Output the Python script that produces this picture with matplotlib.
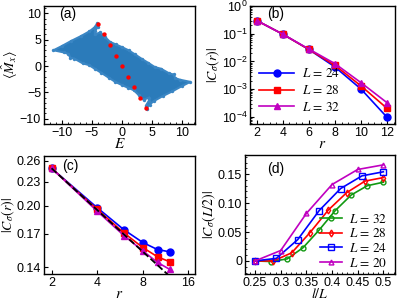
import matplotlib
matplotlib.use("Agg")
import matplotlib.pyplot as plt
from matplotlib.ticker import AutoMinorLocator, NullLocator, FixedLocator, FixedFormatter, LogLocator

plt.rcParams['font.family'] = ['Liberation Sans', 'DejaVu Sans']
plt.rcParams['mathtext.fontset'] = 'stix'
plt.rcParams['xtick.direction'] = 'in'
plt.rcParams['ytick.direction'] = 'in'
plt.rcParams['font.size'] = 9

# ---- panel (a): outline of the scatter cloud (upper side, left -> right)
cloud_upper_E = [-11.4, -10.0, -8.4, -6.8, -5.4, -4.6, -4.1, -4.0, -4.5, -4.5, -3.6, -2.8,
                 -2.0, -1.0, 0.0, 1.1, 2.2, 3.4, 4.4, 5.5, 6.5, 7.9, 8.6, 8.9, 9.7, 11.4]
cloud_upper_M = [3.0, 3.8, 4.8, 5.7, 6.6, 7.3, 8.1, 7.5, 6.6, 6.0, 6.4, 5.5,
                 4.6, 4.1, 3.6, 3.0, 2.2, 1.3, 0.6, -0.2, -0.5, -1.4, -1.6, -2.3, -2.6, -3.0]
red_E = [-4, -3, -2, -1, 0, 1, 2, 3, 4]
red_M = [8, 6, 4, 2, 0, -2, -4, -6, -8]

# ---- panel (b)
r_b = [2, 4, 6, 8, 10, 12]
cb_24 = [0.30, 0.096, 0.027, 0.0063, 1.0e-3, 0.95e-4]
cb_28 = [0.30, 0.096, 0.027, 0.0072, 1.3e-3, 2.0e-4]
cb_32 = [0.30, 0.096, 0.028, 0.0083, 1.7e-3, 3.2e-4]

# ---- panel (c)
r_c = [2, 4, 6, 8, 10, 12]
cc_24 = [0.249, 0.198, 0.1742, 0.1617, 0.1552, 0.1532]
cc_28 = [0.249, 0.196, 0.171, 0.157, 0.1488, 0.1446]
cc_32 = [0.249, 0.194, 0.1684, 0.154, 0.144, 0.1384]
fit_r = [2, 12]
fit_c = [0.249, 0.133]

# ---- panel (d)
x_32 = [8/32, 9/32, 10/32, 11/32, 12/32, 13/32, 14/32, 15/32, 16/32]
y_32 = [0.0, -0.001, 0.0035, 0.023, 0.0535, 0.087, 0.114, 0.130, 0.136]
x_28 = [7/28, 8/28, 9/28, 10/28, 11/28, 12/28, 13/28, 14/28]
y_28 = [0.0, 0.0, 0.014, 0.049, 0.088, 0.118, 0.138, 0.144]
x_24 = [6/24, 7/24, 8/24, 9/24, 10/24, 11/24, 12/24]
y_24 = [0.0, 0.0045, 0.037, 0.087, 0.125, 0.147, 0.154]
x_20 = [5/20, 6/20, 7/20, 8/20, 9/20, 10/20]
y_20 = [0.0, 0.018, 0.082, 0.132, 0.158, 0.166]

fig = plt.figure(figsize=(3.99, 3.01), dpi=100)
ax_a = fig.add_axes([0.110, 0.588, 0.379, 0.392])
ax_b = fig.add_axes([0.627, 0.588, 0.363, 0.392])
ax_c = fig.add_axes([0.110, 0.090, 0.379, 0.392])
ax_d = fig.add_axes([0.614, 0.090, 0.376, 0.395])

blue, red, mag, green = '#0000ff', '#ff0000', '#c000c0', '#119911'
leg_font = {'family': 'STIXGeneral', 'size': 9.5}

# (a)
poly_E = cloud_upper_E + [-e for e in cloud_upper_E[1:-1]]
poly_M = cloud_upper_M + [-m for m in cloud_upper_M[1:-1]]
ax_a.fill(poly_E, poly_M, facecolor='#2b7bba', lw=1.5, edgecolor='#3a86c4')
ax_a.scatter(poly_E, poly_M, s=6, color='#3a86c4', lw=0)
ax_a.scatter(red_E, red_M, s=10, color='red', zorder=3, lw=0)
ax_a.set_xlim(-13, 12.2)
ax_a.set_ylim(-11, 11.4)
ax_a.set_xticks([-10, -5, 0, 5, 10])
ax_a.set_yticks([-10, -5, 0, 5, 10])
ax_a.set_xlabel('$E$', fontsize=11, labelpad=-1)
ax_a.set_ylabel(r'$\langle\hat{M}_x\rangle$', fontsize=10, labelpad=0)
ax_a.text(0.1, 0.9, '(a)', transform=ax_a.transAxes, fontsize=10)

# (b)
ax_b.semilogy(r_b, cb_24, '-o', color=blue, ms=5, lw=1.2, label='$L$ = 24')
ax_b.semilogy(r_b, cb_28, '-s', color=red, ms=5, lw=1.2, label='$L$ = 28')
ax_b.semilogy(r_b, cb_32, '-^', color=mag, ms=5, lw=1.2, label='$L$ = 32')
ax_b.set_xlim(1.5, 12.6)
ax_b.set_ylim(5.5e-5, 1.0)
ax_b.set_xticks([2, 4, 6, 8, 10, 12])
ax_b.xaxis.set_minor_locator(AutoMinorLocator(4))
ax_b.yaxis.set_major_locator(LogLocator(base=10, numticks=10))
ax_b.yaxis.set_minor_locator(LogLocator(base=10, subs=range(2, 10), numticks=10))
ax_b.set_xlabel('$r$', fontsize=11, labelpad=-1)
ax_b.set_ylabel(r'$|C_\sigma(r)|$', fontsize=10, labelpad=0)
ax_b.text(0.12, 0.9, '(b)', transform=ax_b.transAxes, fontsize=10)
ax_b.legend(loc='upper left', bbox_to_anchor=(0.0, 0.56), frameon=False,
            handlelength=2.6, handletextpad=0.6, labelspacing=0.3, borderaxespad=0.3,
            prop=leg_font)

# (c)
ax_c.loglog(fit_r, fit_c, '--', color='black', lw=1.3, zorder=4)
ax_c.loglog(r_c, cc_24, '-o', color=blue, ms=5, lw=1.2)
ax_c.loglog(r_c, cc_28, '-s', color=red, ms=5, lw=1.2)
ax_c.loglog(r_c, cc_32, '-^', color=mag, ms=5, lw=1.2)
ax_c.set_xlim(1.78, 17.7)
ax_c.set_ylim(0.1347, 0.2676)
ax_c.xaxis.set_major_locator(FixedLocator([2, 4, 8, 16]))
ax_c.xaxis.set_major_formatter(FixedFormatter(['2', '4', '8', '16']))
ax_c.yaxis.set_major_locator(FixedLocator([0.14, 0.17, 0.20, 0.23, 0.26]))
ax_c.yaxis.set_major_formatter(FixedFormatter(['0.14', '0.17', '0.20', '0.23', '0.26']))
ax_c.xaxis.set_minor_locator(NullLocator())
ax_c.yaxis.set_minor_locator(NullLocator())
ax_c.set_xlabel('$r$', fontsize=11, labelpad=-1)
ax_c.set_ylabel(r'$|C_\sigma(r)|$', fontsize=10, labelpad=0)
ax_c.text(0.12, 0.88, '(c)', transform=ax_c.transAxes, fontsize=10)

# (d)
ax_d.plot(x_32, y_32, '-o', color=green, mfc='none', ms=3.5, lw=1.2, label='$L$ = 32')
ax_d.plot(x_28, y_28, '-d', color=red, mfc='none', ms=3.5, lw=1.2, label='$L$ = 28')
ax_d.plot(x_24, y_24, '-s', color=blue, mfc='none', ms=4, lw=1.2, label='$L$ = 24')
ax_d.plot(x_20, y_20, '-^', color=mag, mfc='none', ms=3.5, lw=1.2, label='$L$ = 20')
ax_d.set_xlim(0.2305, 0.5227)
ax_d.set_ylim(-0.0224, 0.183)
ax_d.set_xticks([0.25, 0.3, 0.35, 0.4, 0.45, 0.5])
ax_d.set_xticklabels(['0.25', '0.3', '0.35', '0.4', '0.45', '0.5'])
ax_d.set_yticks([0, 0.05, 0.10, 0.15])
ax_d.set_yticklabels(['0', '0.05', '0.10', '0.15'])
ax_d.xaxis.set_minor_locator(AutoMinorLocator(5))
ax_d.yaxis.set_minor_locator(AutoMinorLocator(5))
ax_d.set_xlabel('$l/L$', fontsize=10, labelpad=-1)
ax_d.set_ylabel(r'$|C_\sigma(L/2)|$', fontsize=10, labelpad=0)
ax_d.text(0.15, 0.85, '(d)', transform=ax_d.transAxes, fontsize=10)
ax_d.legend(loc='lower right', bbox_to_anchor=(1.0, -0.03), frameon=False,
            handlelength=1.7, handletextpad=0.5, labelspacing=0.12, borderaxespad=0.2,
            prop=leg_font)

for ax in (ax_a, ax_b, ax_c, ax_d):
    ax.tick_params(which='both', top=False, right=False, pad=2)
    ax.tick_params(which='major', length=3)
    ax.tick_params(which='minor', length=1.5)
    for s in ax.spines.values():
        s.set_linewidth(1.0)
ax_a.xaxis.set_minor_locator(AutoMinorLocator(5))
ax_a.yaxis.set_minor_locator(AutoMinorLocator(5))

fig.savefig('out.png', dpi=100)
